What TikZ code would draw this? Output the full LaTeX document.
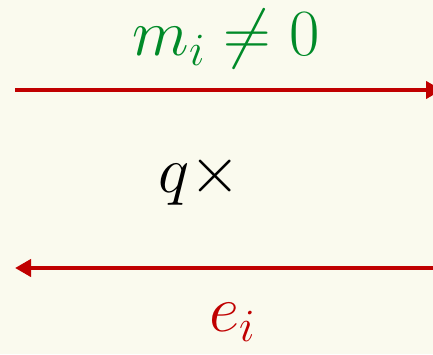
\RequirePackage{fix-cm}
\documentclass[tikz,border=0pt]{standalone}
\usetikzlibrary{arrows.meta}
\definecolor{bgc}{RGB}{250,250,238}
\definecolor{arrred}{RGB}{192,0,0}
\definecolor{grn}{RGB}{0,138,40}
\begin{document}
\begin{tikzpicture}[x=1pt,y=1pt,
  arr/.style={draw=arrred,line width=4.5pt,-{Triangle[length=16pt,width=17pt]}},
  lbl/.style={inner sep=0pt,font=\fontsize{66}{72}\selectfont}]
\fill[bgc] (0,0) rectangle (433,354);
\useasboundingbox (0,0) rectangle (433,354);
\coordinate (t1) at (15,264);
\coordinate (t2) at (442,264);
\coordinate (b1) at (440,86);
\coordinate (b2) at (15,86);
\draw[arr] (t1) -- (t2);
\draw[arr] (b1) -- (b2);
\node[lbl,text=grn] (m) at (226,315) {$m_i \neq 0$};
\node[lbl] (q) at (200,174) {$q{\times}$};
\node[lbl,text=arrred] (e) at (232,32) {$e_i$};
\end{tikzpicture}
\end{document}
